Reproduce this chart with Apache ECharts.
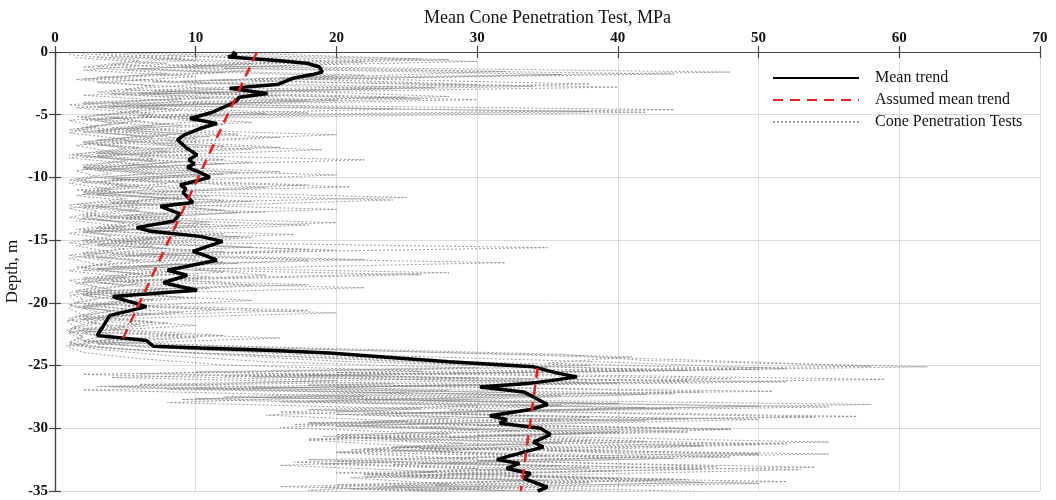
<!DOCTYPE html>
<html>
<head>
<meta charset="utf-8">
<script src="https://cdn.jsdelivr.net/npm/echarts@6/dist/echarts.min.js"></script>
<style>
html,body{margin:0;padding:0;background:#fff;}
#chart{width:1056px;height:500px;}
</style>
</head>
<body>
<div id="chart"></div>
<script>
// ---------- DATA ----------
const xTicks = [0, 10, 20, 30, 40, 50, 60, 70];
const yTicks = [0, -5, -10, -15, -20, -25, -30, -35];

// Mean trend (MPa, depth m)
const meanValue = [12.6, 12.9, 12.3, 13.6, 16.0, 17.9, 18.8, 19.0, 18.3, 16.9, 15.8, 12.4, 15.1, 13.1, 12.9, 12.4, 11.2, 9.6, 11.5, 10.3, 9.2, 8.7, 9.4, 10.1, 9.5, 9.9, 9.4, 10.3, 11.0, 8.9, 9.3, 9.1, 9.8, 7.5, 8.9, 8.4, 5.8, 6.8, 10.3, 11.9, 9.8, 10.6, 11.5, 8.0, 9.4, 7.7, 10.1, 4.1, 6.5, 5.4, 3.9, 3.4, 3.0, 6.5, 6.8, 7.0, 10.3, 15.5, 19.5, 23.1, 28.0, 34.0, 35.7, 37.1, 35.2, 33.8, 30.2, 33.3, 34.0, 35.0, 33.8, 30.9, 32.1, 31.6, 34.5, 35.2, 34.0, 34.7, 33.3, 31.4, 33.0, 32.1, 33.8, 33.3, 35.0, 34.3];
const meanDepth = [0, -0.2, -0.4, -0.5, -0.7, -0.9, -1.2, -1.6, -1.8, -2.1, -2.6, -2.9, -3.3, -3.6, -3.9, -4.2, -4.8, -5.3, -5.7, -6.1, -6.6, -7.0, -7.7, -8.2, -8.6, -8.9, -9.2, -9.6, -10.0, -10.6, -10.9, -11.2, -12.0, -12.3, -12.9, -13.5, -14.0, -14.3, -14.7, -15.1, -15.9, -16.2, -16.6, -17.4, -17.8, -18.4, -19.0, -19.5, -20.3, -20.6, -21.0, -21.9, -22.6, -23.0, -23.3, -23.45, -23.6, -23.8, -24.0, -24.3, -24.7, -25.1, -25.6, -25.9, -26.2, -26.4, -26.7, -27.1, -27.5, -28.1, -28.5, -29.0, -29.3, -29.6, -30.0, -30.5, -31.1, -31.5, -31.9, -32.5, -32.8, -33.2, -33.6, -34.0, -34.7, -35.0];

// Assumed mean trend (two linear segments)
const assumedUpperValue = [14.35, 4.8];
const assumedUpperDepth = [0, -22.9];
const assumedLowerValue = [34.3, 33.1];
const assumedLowerDepth = [-25.2, -35];

// Cone penetration tests: values every 0.5 m from each test's start depth
const cptStep = 0.5;
const cptStart = [0, 0.1, 0.2, 0.3, 0.4, 0.05, 0.15, 0.25, 0.35, 0.45];
const cpt1 = [2, 9, 4, 14, 3, 11, 5, 16, 2, 8, 3,
  6, 2, 9, 3, 12, 4, 7, 2, 10, 3, 8, 1.5, 11, 4, 6, 2, 9, 3, 12, 2,
  7, 2, 10, 3, 8, 2, 6, 1.5,
  4, 1.5, 5, 2, 3, 1.2, 4, 2,
  6, 15, 24, 38,
  10, 30, 6, 28, 12, 40, 18, 34, 22, 45, 20, 38, 24, 50, 18, 36, 26, 40, 20, 32];
const cpt2 = [5, 28, 10, 48, 16, 30, 7, 25, 4, 44, 6,
  14, 5, 20, 8, 16, 3, 22, 6, 13, 4, 18, 7, 25, 5, 12, 3, 20, 6, 10, 4,
  35, 6, 18, 4, 28, 8, 14, 2,
  10, 3, 18, 2, 8, 4, 12, 2,
  18, 36, 42, 62,
  28, 59, 24, 46, 20, 58, 30, 54, 25, 48, 32, 55, 26, 50, 30, 54, 28, 45, 24, 42];
const cpt3 = [1, 6, 2, 8, 1.5, 7, 3, 9, 1, 6, 2,
  4, 1, 6, 2, 5, 1, 7, 2, 4, 1, 6, 2, 5, 1, 3, 1, 6, 2, 4, 1,
  5, 1, 4, 2, 6, 1, 3, 1,
  2, 1, 3, 1, 2, 0.8, 2, 1,
  3, 8, 15, 30,
  2, 20, 4, 25, 9, 30, 16, 28, 17, 33, 20, 29, 21, 35, 17, 30, 22, 34, 19, 30];
const cpt4 = [8, 22, 12, 36, 14, 40, 10, 30, 6, 42, 9,
  12, 5, 16, 7, 19, 6, 14, 4, 20, 8, 15, 6, 24, 9, 13, 5, 18, 7, 14, 6,
  20, 7, 32, 10, 15, 5, 22, 4,
  14, 5, 20, 3, 10, 2, 16, 3,
  22, 41, 35, 50,
  18, 52, 14, 42, 26, 55, 24, 50, 30, 45, 22, 50, 35, 48, 26, 53, 32, 46, 28, 40];
const cpt5 = [3, 14, 5, 20, 7, 24, 4, 18, 3, 15, 2,
  7, 2, 10, 3, 8, 2, 12, 3, 9, 2, 7, 3, 14, 2, 8, 3, 10, 2, 7, 3,
  12, 3, 9, 2, 11, 3, 8, 2,
  6, 2, 7, 1, 5, 2, 4, 1,
  8, 20, 30, 45,
  14, 40, 8, 36, 16, 44, 20, 42, 26, 38, 24, 46, 20, 44, 24, 40, 22, 50, 25, 36];
const cpt6 = [12, 26, 8, 32, 18, 38, 15, 28, 9, 24, 6,
  10, 4, 13, 5, 9, 3, 12, 5, 16, 4, 10, 3, 9, 4, 20, 5, 11, 3, 17, 4,
  14, 4, 22, 6, 12, 3, 18, 3,
  9, 2, 12, 3, 7, 2, 9, 2,
  14, 30, 45, 58,
  20, 48, 18, 51, 14, 40, 28, 57, 18, 48, 30, 42, 24, 55, 30, 47, 20, 44, 27, 46];
const cpt7 = [2, 10, 3, 12, 2, 16, 4, 11, 2, 9, 1.5,
  5, 1.5, 8, 2, 6, 1.5, 5, 2, 7, 1.5, 5, 2, 8, 1.5, 6, 2, 5, 1.5, 9, 2,
  8, 2, 6, 1.5, 9, 2, 5, 1.5,
  3, 1, 4, 1.5, 3, 1, 2, 1,
  4, 12, 20, 35,
  6, 34, 3, 32, 10, 36, 20, 38, 18, 30, 19, 36, 22, 34, 20, 38, 22, 35, 16, 34];
const cpt8 = [6, 30, 9, 44, 11, 34, 6, 26, 5, 38, 4,
  8, 3, 11, 4, 14, 3, 9, 2, 12, 4, 21, 3, 9, 2, 15, 4, 11, 3, 13, 5,
  18, 5, 12, 3, 26, 4, 10, 2,
  7, 2, 9, 2, 6, 1.5, 10, 3,
  10, 25, 40, 52,
  16, 45, 20, 44, 22, 50, 26, 45, 21, 40, 28, 52, 24, 42, 28, 46, 25, 52, 23, 44];
const cpt9 = [4, 16, 6, 22, 9, 27, 6, 20, 4, 18, 3,
  9, 3, 7, 2, 10, 3, 8, 2, 11, 3, 9, 2, 12, 3, 7, 2, 13, 2, 8, 3,
  10, 2, 13, 3, 7, 2, 11, 2,
  5, 1.5, 6, 2, 4, 1, 6, 1.5,
  7, 18, 28, 42,
  12, 38, 10, 34, 18, 42, 22, 36, 20, 40, 18, 34, 27, 40, 19, 33, 24, 38, 21, 36];
const cpt10 = [1.5, 8, 2, 10, 3, 12, 2, 9, 1.5, 7, 1,
  3, 1, 5, 1.5, 4, 1, 6, 1.5, 3, 1, 4, 1.5, 6, 1, 3, 1.5, 5, 1, 4, 1.5,
  4, 1, 3, 1, 5, 1.5, 4, 1,
  1.5, 1, 2, 0.8, 1.5, 1, 2, 0.8,
  2, 6, 12, 26,
  4, 24, 2, 22, 8, 26, 15, 25, 16, 28, 18, 26, 20, 30, 16, 27, 21, 28, 18, 28];
const cptTests = [cpt1, cpt2, cpt3, cpt4, cpt5, cpt6, cpt7, cpt8, cpt9, cpt10];

// ---------- CHART ----------
const FONT = '"Liberation Serif", "DejaVu Serif", serif';
const pairs = (xs, ys) => xs.map((v, i) => [v, ys[i]]);

const series = [];
cptTests.forEach((vals, k) => {
  series.push({
    name: 'Cone Penetration Tests',
    type: 'line',
    data: vals.map((v, i) => [v, -(cptStart[k] + i * cptStep)]),
    showSymbol: false, symbol: 'none',
    lineStyle: { color: '#8a8a8a', width: 1, type: [2, 2], opacity: 0.85 },
    itemStyle: { color: '#555' },
    z: 2, silent: true
  });
});
series.push({
  name: 'Mean trend', type: 'line',
  data: pairs(meanValue, meanDepth),
  showSymbol: false, symbol: 'none',
  lineStyle: { color: '#000', width: 3.5 },
  itemStyle: { color: '#000' },
  z: 3
});
series.push({
  name: 'Assumed mean trend', type: 'line',
  data: pairs(assumedUpperValue, assumedUpperDepth),
  showSymbol: false, symbol: 'none',
  lineStyle: { color: '#e8211c', width: 2.5, type: [10, 7] },
  itemStyle: { color: '#e8211c' },
  z: 4
});
series.push({
  name: 'Assumed mean trend', type: 'line',
  data: pairs(assumedLowerValue, assumedLowerDepth),
  showSymbol: false, symbol: 'none',
  lineStyle: { color: '#e8211c', width: 2.5, type: [10, 7] },
  itemStyle: { color: '#e8211c' },
  z: 4
});

const axisLine = { show: true, lineStyle: { color: '#444', width: 1.2 } };
const tick = { show: true, inside: true, length: 6, lineStyle: { color: '#444', width: 1.2 } };
const split = { show: true, lineStyle: { color: '#dcdcdc', width: 1 } };
const labelStyle = { fontFamily: FONT, fontSize: 15, fontWeight: 'bold', color: '#111' };

const chart = echarts.init(document.getElementById('chart'), null, { renderer: 'canvas' });
chart.setOption({
  animation: false,
  backgroundColor: '#fff',
  grid: { left: 55, right: 16, top: 52, bottom: 9, containLabel: false, outerBoundsMode: 'none' },
  legend: {
    orient: 'vertical',
    left: 767, top: 65,
    padding: 5,
    itemWidth: 86, itemHeight: 14, itemGap: 6,
    itemStyle: { opacity: 0 },
    data: ['Mean trend', 'Assumed mean trend', 'Cone Penetration Tests'],
    textStyle: { fontFamily: FONT, fontSize: 16, color: '#111', padding: [0, 0, 0, 11] },
    selectedMode: false
  },
  xAxis: [{
    type: 'value', position: 'top', min: 0, max: 70, interval: 10,
    name: 'Mean Cone Penetration Test, MPa', nameLocation: 'middle', nameGap: 25,
    nameMoveOverlap: false,
    nameTextStyle: { fontFamily: FONT, fontSize: 18, color: '#111' },
    axisLine, axisTick: tick, splitLine: split,
    axisLabel: Object.assign({ margin: 6 }, labelStyle)
  }, {
    type: 'value', position: 'bottom', min: 0, max: 70, interval: 10,
    axisLine, axisTick: tick, splitLine: { show: false }, axisLabel: { show: false }
  }],
  yAxis: [{
    type: 'value', min: -35, max: 0, interval: 5,
    name: 'Depth, m', nameLocation: 'middle', nameGap: 34, nameRotate: 90,
    nameMoveOverlap: false,
    nameTextStyle: { fontFamily: FONT, fontSize: 17, color: '#111' },
    axisLine, axisTick: tick, splitLine: split,
    axisLabel: Object.assign({ margin: 7 }, labelStyle)
  }, {
    type: 'value', position: 'right', min: -35, max: 0, interval: 5,
    axisLine, axisTick: tick, splitLine: { show: false }, axisLabel: { show: false }
  }],
  series
});
</script>
</body>
</html>
